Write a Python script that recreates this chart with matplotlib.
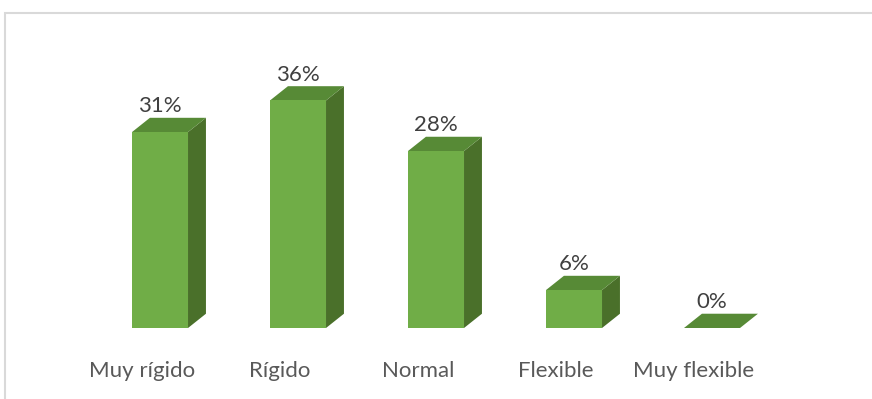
import matplotlib
matplotlib.use("Agg")
import matplotlib.pyplot as plt
from matplotlib.patches import Polygon, Rectangle

plt.rcParams["font.family"] = ["Lato", "DejaVu Sans"]

categorias = ["Muy rígido", "Rígido", "Normal", "Flexible", "Muy flexible"]
porcentajes = [31, 36, 28, 6, 0]

# colores de las caras del prisma
frente = "#70ad47"
tapa = "#578a36"
lado = "#4a702a"

ancho = 0.406   # ancho de la cara frontal
prof_x = 0.13   # desplazamiento de la profundidad en x
prof_y = 2.26   # desplazamiento de la profundidad en y

fig = plt.figure(figsize=(8.72, 3.99), dpi=100)
ax = fig.add_axes([0, 0, 1, 1])
ax.set_xlim(-160 / 138, 712 / 138)
ax.set_ylim(-71 / 6.32, 328 / 6.32)
ax.axis("off")

for i, (cat, v) in enumerate(zip(categorias, porcentajes)):
    x0 = i - ancho / 2
    x1 = i + ancho / 2
    # cara lateral
    ax.add_patch(Polygon([(x1, 0), (x1 + prof_x, prof_y), (x1 + prof_x, v + prof_y), (x1, v)],
                         closed=True, facecolor=lado, edgecolor="none"))
    # tapa
    ax.add_patch(Polygon([(x0, v), (x1, v), (x1 + prof_x, v + prof_y), (x0 + prof_x, v + prof_y)],
                         closed=True, facecolor=tapa, edgecolor="none"))
    # frente
    if v > 0:
        ax.add_patch(Rectangle((x0, 0), ancho, v, facecolor=frente, edgecolor="none"))
    ax.annotate(f"{v}%", (i, v + prof_y), xytext=(0, 1), textcoords="offset points",
                ha="center", va="bottom", fontsize=16, color="#404040")
    ax.annotate(cat, (i, 0), xytext=(-13, -31), textcoords="offset points",
                ha="center", va="center", fontsize=16, color="#595959")

# borde del área del gráfico
fig.patches.append(Rectangle((5 / 872, -0.2), 1.5, 1.2 - 12.5 / 399, transform=fig.transFigure,
                             fill=False, edgecolor="#d9d9d9", linewidth=1.5))

fig.savefig("out.png", dpi=100)
